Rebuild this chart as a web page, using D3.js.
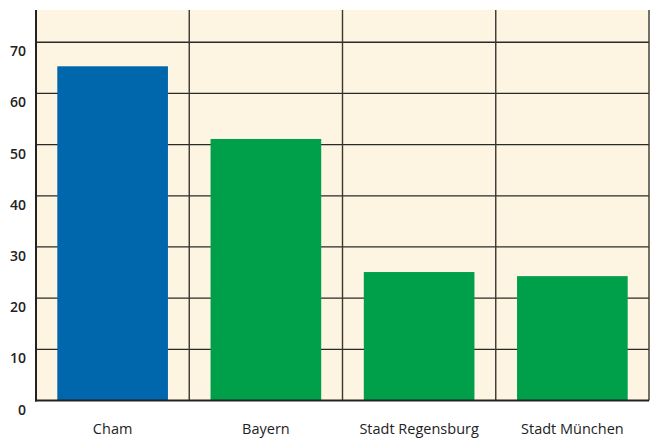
<!DOCTYPE html>
<html>
<head>
<meta charset="utf-8">
<script src="https://cdn.jsdelivr.net/npm/d3@7"></script>
<style>
  body { margin: 0; background: #fff; }
  text { font-family: "Open Sans", "Noto Sans", sans-serif; fill: #222; }
</style>
</head>
<body>
<div id="chart"></div>
<script>
// data
const categories = ["Cham", "Bayern", "Stadt Regensburg", "Stadt München"];
const values = [65.3, 51.1, 25.1, 24.3];
const barColors = ["#0067ad", "#00a04b", "#00a04b", "#00a04b"];
const yTicks = [0, 10, 20, 30, 40, 50, 60, 70];

const width = 661, height = 438;
const plotLeft = 36, plotRight = 649, plotTop = 10, plotBottom = 400.5;

const svg = d3.select("#chart").append("svg")
	.attr("width", width)
	.attr("height", height);

const x = d3.scaleBand()
	.domain(categories)
	.range([plotLeft, plotRight])
	.paddingInner(0.278)
	.paddingOuter(0.139);

const y = d3.scaleLinear()
	.domain([0, 76.3])
	.range([plotBottom, plotTop]);

//background
svg.append("rect")
	.attr("x", plotLeft).attr("y", plotTop)
	.attr("width", plotRight - plotLeft).attr("height", plotBottom - plotTop)
	.style("fill", "#fdf5e1");

//horizontal grid
svg.selectAll(".hgrid")
	.data(yTicks.filter(d => d > 0))
	.enter().append("line")
	.attr("x1", plotLeft).attr("x2", plotRight)
	.attr("y1", d => y(d)).attr("y2", d => y(d))
	.style("stroke", "#2a2a2a")
	.style("stroke-width", 1.3);

//vertical grid (category boundaries)
const step = x.step();
const bounds = d3.range(categories.length + 1).map(i => plotLeft + i * step);
svg.selectAll(".vgrid")
	.data(bounds.slice(1))
	.enter().append("line")
	.attr("x1", d => d).attr("x2", d => d)
	.attr("y1", plotTop).attr("y2", plotBottom)
	.style("stroke", "#3a3630")
	.style("stroke-width", 1.4);

//bars
svg.selectAll(".bar")
	.data(values)
	.enter().append("rect")
	.attr("x", (d, i) => x(categories[i]))
	.attr("y", d => y(d))
	.attr("width", x.bandwidth())
	.attr("height", d => y(0) - y(d))
	.style("fill", (d, i) => barColors[i]);

//axes lines
svg.append("line")
	.attr("x1", plotLeft).attr("x2", plotLeft)
	.attr("y1", plotTop).attr("y2", plotBottom + 1)
	.style("stroke", "#222").style("stroke-width", 2);
svg.append("line")
	.attr("x1", plotLeft - 1).attr("x2", plotRight)
	.attr("y1", plotBottom).attr("y2", plotBottom)
	.style("stroke", "#222").style("stroke-width", 2);

//y labels, sitting just below each gridline
svg.selectAll(".ylab")
	.data(yTicks)
	.enter().append("text")
	.attr("x", 26)
	.attr("y", d => y(d) + 14)
	.attr("text-anchor", "end")
	.style("font-size", "14px")
	.style("font-weight", 600)
	.text(d => d);

//x labels
svg.selectAll(".xlab")
	.data(categories)
	.enter().append("text")
	.attr("x", d => x(d) + x.bandwidth() / 2)
	.attr("y", 434)
	.attr("text-anchor", "middle")
	.style("font-size", "14.5px")
	.text(d => d);
</script>
</body>
</html>
